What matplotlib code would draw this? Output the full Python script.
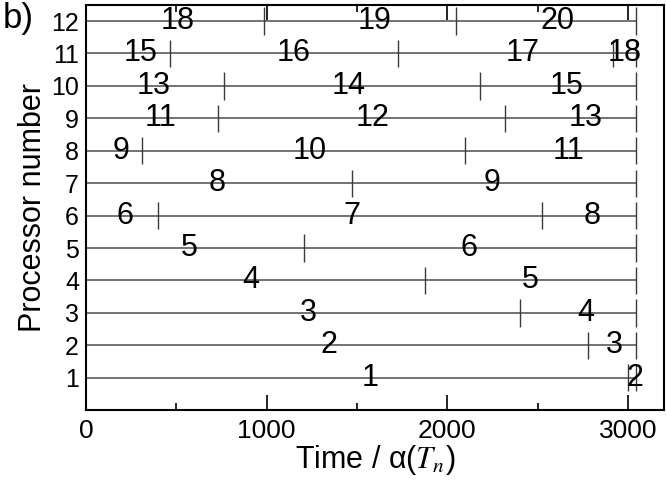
import matplotlib.pyplot as plt
from matplotlib.ticker import MultipleLocator

plt.rcParams['font.family'] = ['Liberation Sans', 'DejaVu Sans']
plt.rcParams['mathtext.fontset'] = 'stix'

# schedule per processor: task ids, switch times, label positions
processors = list(range(1, 13))
end_time = 3047
tasks = [
    [1, 2], [2, 3], [3, 4], [4, 5], [5, 6], [6, 7, 8],
    [8, 9], [9, 10, 11], [11, 12, 13], [13, 14, 15], [15, 16, 17, 18], [18, 19, 20],
]
switch_times = [
    [3001], [2782], [2402], [1877], [1205], [397, 2523],
    [1475], [309, 2099], [729, 2318], [762, 2180], [463, 1725, 2918], [987, 2047],
]
label_x = [
    [1576, 3038], [1344, 2926], [1231, 2768], [914, 2457], [572, 2119], [217, 1473, 2801],
    [725, 2246], [192, 1237, 2672], [413, 1586, 2765], [376, 1453, 2662],
    [305, 1151, 2416, 2980], [509, 1596, 2611],
]

fig = plt.figure(figsize=(6.66, 4.82), dpi=100)
ax = fig.add_axes([0.129, 0.149, 0.868, 0.841])

for p, ts, sw, lx in zip(processors, tasks, switch_times, label_x):
    ax.hlines(p, 0, end_time, color='#5a5a5a', lw=1.2, zorder=1)
    ax.vlines(sw + [end_time], p - 0.42, p + 0.42, color='#3a3a3a', lw=1.0, zorder=2)
    for t, x in zip(ts, lx):
        ax.text(x, p, str(t), ha='center', va='center', fontsize=22, zorder=3)

ax.set_xlim(0, 3200)
ax.set_ylim(0, 12.5)
ax.xaxis.set_major_locator(MultipleLocator(1000))
ax.xaxis.set_minor_locator(MultipleLocator(500))
ax.set_yticks(processors)
ax.tick_params(axis='x', which='major', direction='in', length=11, width=1.2,
               top=True, labelsize=19, pad=6)
ax.tick_params(axis='x', which='minor', direction='in', length=5, width=1.2, top=True)
ax.tick_params(axis='y', which='major', direction='in', length=0, labelsize=18, pad=5)
for s in ax.spines.values():
    s.set_linewidth(1.5)

ax.set_xlabel('Time / α($T_n$)', fontsize=22, labelpad=0)
ax.set_ylabel('Processor number', fontsize=22, labelpad=2)
fig.text(0.004, 0.995, 'b)', fontsize=25, ha='left', va='top')

fig.savefig('out.png', dpi=100)
